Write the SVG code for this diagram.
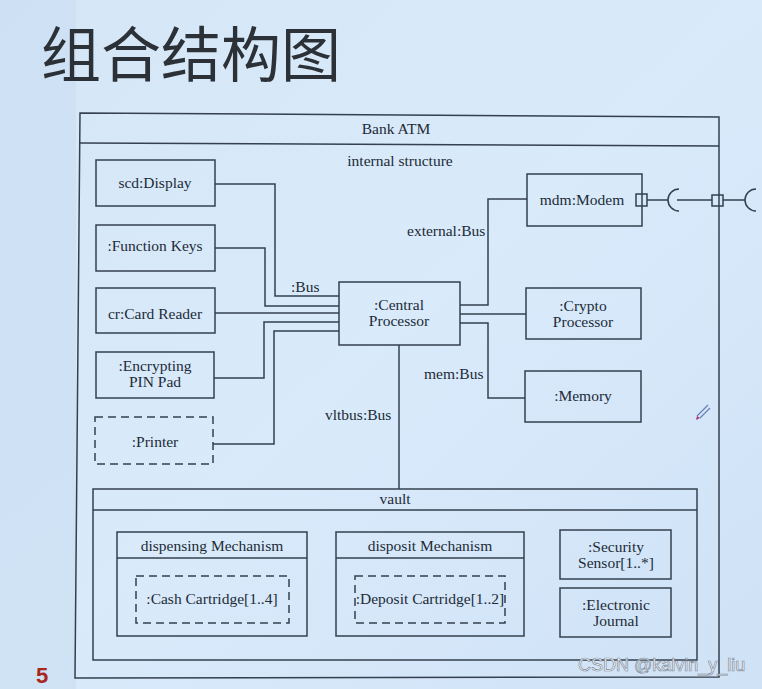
<svg xmlns="http://www.w3.org/2000/svg" width="762" height="689" viewBox="0 0 762 689">
<defs>
<linearGradient id="bg" x1="0" y1="0" x2="1" y2="1">
<stop offset="0" stop-color="#d5e6f7"/>
<stop offset="0.5" stop-color="#d9eafb"/>
<stop offset="1" stop-color="#cfe2f6"/>
</linearGradient>
<style>
.ln{fill:none;stroke:#34404f;stroke-width:1.5}
.bx{fill:none;stroke:#34404f;stroke-width:1.5}
.ds{fill:none;stroke:#34404f;stroke-width:1.5;stroke-dasharray:8 5}
.t{font-family:"Liberation Serif","Times New Roman",serif;font-size:15.5px;fill:#222b36;text-anchor:middle;dominant-baseline:central}
.lb{font-family:"Liberation Serif","Times New Roman",serif;font-size:15.5px;fill:#222b36;dominant-baseline:central}
</style>
</defs>
<rect width="762" height="689" fill="url(#bg)"/>
<rect x="0" y="0" width="76" height="689" fill="#c9ddf1" opacity="0.6"/>
<text x="41" y="77" font-family="'Noto Sans CJK SC','Noto Sans',sans-serif" font-size="60" fill="#2b3136">组合结构图</text>

<g id="bank-atm">
<path class="bx" d="M80,113 L719,117 L719,677 L75,678 Z" fill="#dbebfb"/>
<line class="ln" x1="80" y1="143" x2="719" y2="146"/>
<text class="t" x="396" y="128">Bank ATM</text>
<text class="t" x="400" y="160">internal structure</text>
</g>

<g id="connectors">
<polyline class="ln" points="215,184 275,184 275,296 339,296"/>
<polyline class="ln" points="215,248 265,248 265,306 339,306"/>
<line class="ln" x1="215" y1="313" x2="339" y2="313"/>
<polyline class="ln" points="214,378 264,378 264,322 339,322"/>
<polyline class="ln" points="213,444 274,444 274,331 339,331"/>
<polyline class="ln" points="460,305 488,305 488,199 527,199"/>
<line class="ln" x1="460" y1="314" x2="526" y2="314"/>
<polyline class="ln" points="460,323 488,323 488,398 525,398"/>
<line class="ln" x1="399" y1="345" x2="399" y2="489"/>
<line class="ln" x1="647" y1="200" x2="668" y2="200"/>
<path class="ln" d="M679,189 A11,11 0 0 0 679,211"/>
<line class="ln" x1="677" y1="200" x2="712" y2="200"/>
<line class="ln" x1="723" y1="200" x2="745" y2="200"/>
<path class="ln" d="M756,189 A11,11 0 0 0 756,211"/>
<text class="lb" x="291" y="286">:Bus</text>
<text class="lb" x="407" y="230">external:Bus</text>
<text class="lb" x="424" y="373">mem:Bus</text>
<text class="lb" x="325" y="414">vltbus:Bus</text>
</g>

<g id="display"><rect class="bx" x="96" y="160" width="119" height="46"/><text class="t" x="155" y="182">scd:Display</text></g>
<g id="function-keys"><rect class="bx" x="96" y="225" width="119" height="46"/><text class="t" x="155" y="245">:Function Keys</text></g>
<g id="card-reader"><rect class="bx" x="96" y="288" width="119" height="45"/><text class="t" x="155" y="313">cr:Card Reader</text></g>
<g id="pin-pad"><rect class="bx" x="96" y="352" width="118" height="46"/><text class="t" x="155" y="365">:Encrypting</text><text class="t" x="155" y="381">PIN Pad</text></g>
<g id="printer"><rect class="ds" x="95" y="417" width="118" height="47"/><text class="t" x="155" y="441">:Printer</text></g>
<g id="central-processor"><rect class="bx" x="339" y="282" width="121" height="63"/><text class="t" x="399" y="304">:Central</text><text class="t" x="399" y="320">Processor</text></g>
<g id="modem"><rect class="bx" x="527" y="174" width="115" height="52"/><text class="t" x="582" y="199">mdm:Modem</text><rect class="bx" x="636" y="194" width="11" height="12" fill="#dbebfb"/></g>
<g id="atm-port"><rect class="bx" x="712" y="195" width="11" height="11" fill="#dbebfb"/></g>
<g id="crypto-processor"><rect class="bx" x="526" y="288" width="115" height="51"/><text class="t" x="583" y="305">:Crypto</text><text class="t" x="583" y="321">Processor</text></g>
<g id="memory"><rect class="bx" x="525" y="371" width="116" height="51"/><text class="t" x="583" y="395">:Memory</text></g>

<g id="vault">
<rect class="bx" x="93" y="489" width="604" height="171"/>
<line class="ln" x1="93" y1="510" x2="697" y2="510"/>
<text class="t" x="395" y="498">vault</text>
</g>
<g id="dispensing-mechanism">
<rect class="bx" x="117" y="532" width="190" height="104"/>
<line class="ln" x1="117" y1="558" x2="307" y2="558"/>
<text class="t" x="212" y="545">dispensing Mechanism</text>
</g>
<g id="cash-cartridge"><rect class="ds" x="136" y="576" width="153" height="47"/><text class="t" x="212" y="598">:Cash Cartridge[1..4]</text></g>
<g id="disposit-mechanism">
<rect class="bx" x="336" y="532" width="188" height="104"/>
<line class="ln" x1="336" y1="558" x2="524" y2="558"/>
<text class="t" x="430" y="545">disposit Mechanism</text>
</g>
<g id="deposit-cartridge"><rect class="ds" x="355" y="576" width="150" height="47"/><text class="t" x="430" y="598">:Deposit Cartridge[1..2]</text></g>
<g id="security-sensor"><rect class="bx" x="560" y="530" width="111" height="49"/><text class="t" x="616" y="546">:Security</text><text class="t" x="616" y="562">Sensor[1..*]</text></g>
<g id="electronic-journal"><rect class="bx" x="560" y="588" width="111" height="49"/><text class="t" x="616" y="604">:Electronic</text><text class="t" x="616" y="620">Journal</text></g>

<path d="M697,416 L708,405 M700,418 L710,408" stroke="#6a7fb8" stroke-width="1.2" fill="none"/>
<path d="M697,416 L700,418 L696,420 Z" fill="#b0306a"/>
<text x="36" y="683" font-family="'Liberation Sans',sans-serif" font-size="22" font-weight="bold" fill="#a8281e">5</text>
<text x="578" y="671" font-family="'Liberation Sans',sans-serif" font-size="18" fill="#ffffff" stroke="#7f8b9b" stroke-width="0.7">CSDN @kalvin_y_liu</text>
</svg>
